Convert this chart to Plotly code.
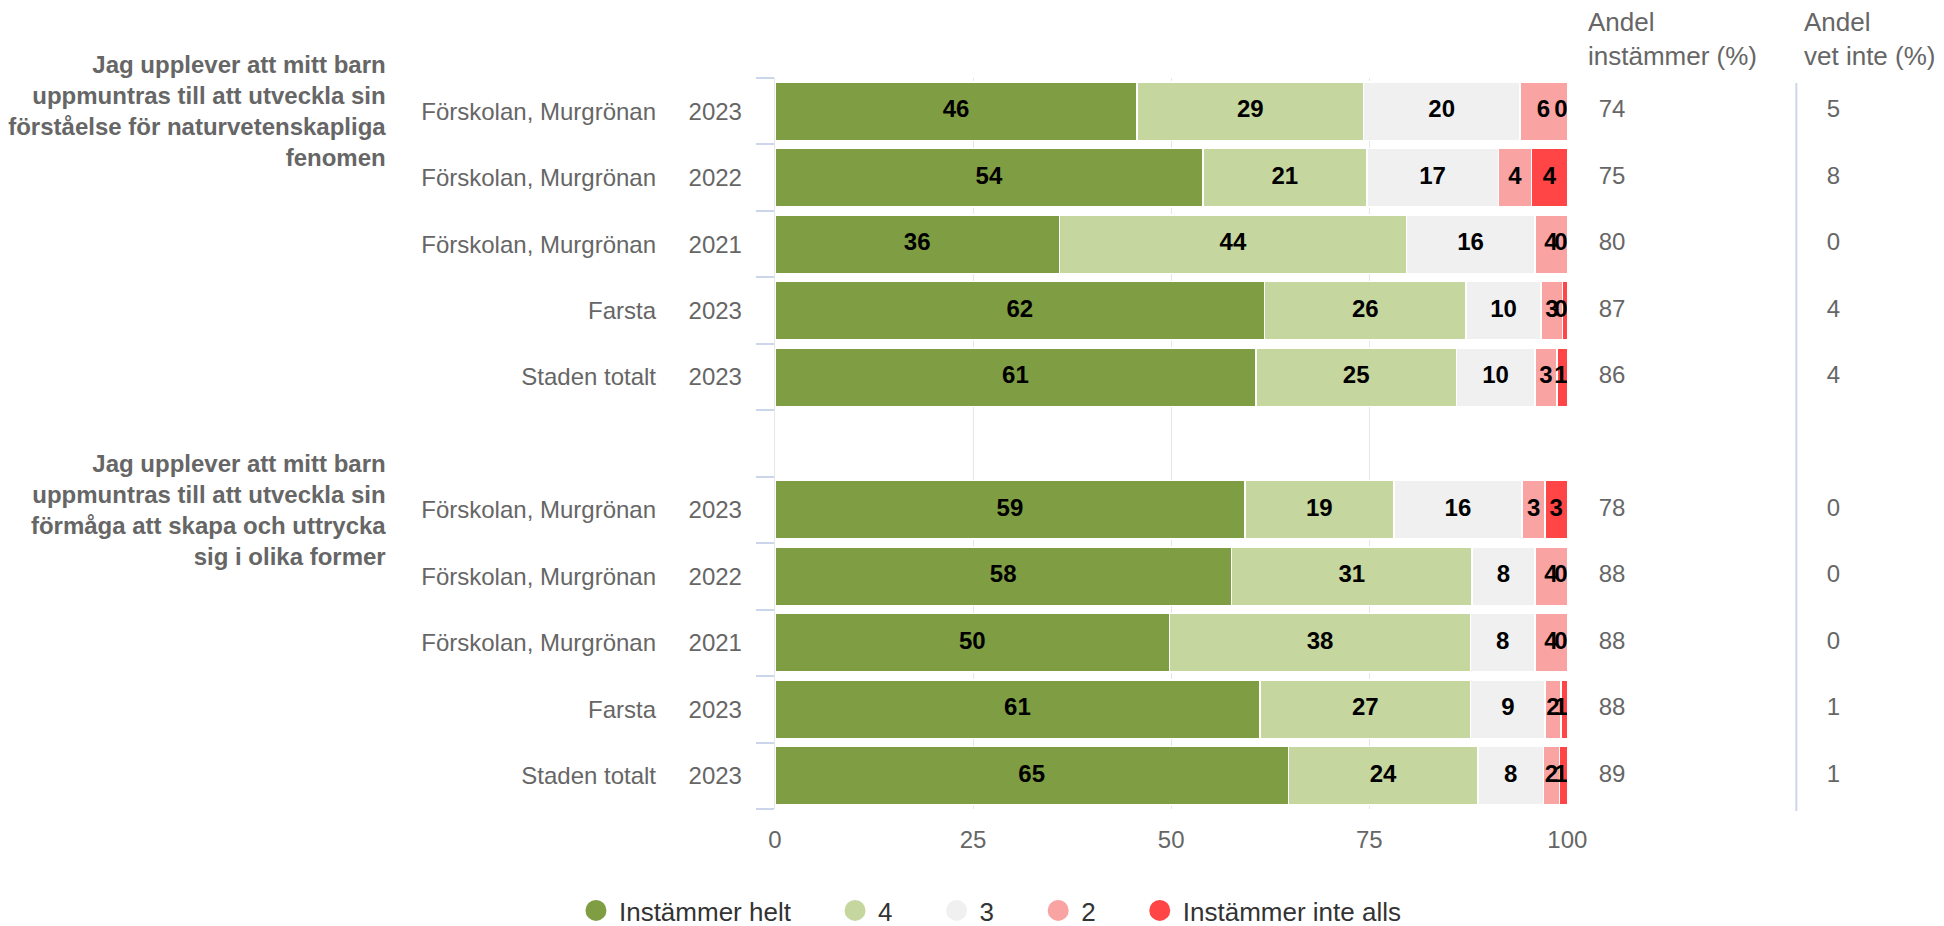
import plotly.graph_objects as go

W, H = 1944, 926

# ---------------- data ----------------
group_titles = [
    "Jag upplever att mitt barn<br>uppmuntras till att utveckla sin<br>förståelse för naturvetenskapliga<br>fenomen",
    "Jag upplever att mitt barn<br>uppmuntras till att utveckla sin<br>förmåga att skapa och uttrycka<br>sig i olika former",
]
units = ["Förskolan, Murgrönan", "Förskolan, Murgrönan", "Förskolan, Murgrönan", "Farsta", "Staden totalt",
         "Förskolan, Murgrönan", "Förskolan, Murgrönan", "Förskolan, Murgrönan", "Farsta", "Staden totalt"]
years = ["2023", "2022", "2021", "2023", "2023", "2023", "2022", "2021", "2023", "2023"]
group_of_row = [0, 0, 0, 0, 0, 1, 1, 1, 1, 1]

series_names = ["Instämmer helt", "4", "3", "2", "Instämmer inte alls"]
series_colors = ["#7f9d43", "#c5d69e", "#f0f0f0", "#f9a3a3", "#ff4545"]

# bar widths (share of answers, %)
helt_w = [45.7, 54.0, 35.9, 61.8, 60.7, 59.3, 57.6, 49.8, 61.2, 64.8]
four_w = [28.6, 20.7, 43.8, 25.4, 25.3, 18.8, 30.4, 38.0, 26.6, 23.9]
three_w = [19.7, 16.6, 16.2, 9.5, 9.9, 16.2, 7.9, 8.1, 9.4, 8.3]
two_w = [6.0, 4.2, 4.1, 2.7, 2.8, 2.9, 4.1, 4.1, 2.0, 2.0]
inte_w = [0.0, 4.5, 0.0, 0.6, 1.3, 2.8, 0.0, 0.0, 0.8, 1.0]

# rounded labels as printed
helt_lbl = [46, 54, 36, 62, 61, 59, 58, 50, 61, 65]
four_lbl = [29, 21, 44, 26, 25, 19, 31, 38, 27, 24]
three_lbl = [20, 17, 16, 10, 10, 16, 8, 8, 9, 8]
two_lbl = [6, 4, 4, 3, 3, 3, 4, 4, 2, 2]
inte_lbl = [0, 4, 0, 0, 1, 3, 0, 0, 1, 1]

andel_instammer = [74, 75, 80, 87, 86, 78, 88, 88, 88, 89]
andel_vet_inte = [5, 8, 0, 4, 4, 0, 0, 0, 1, 1]

x_ticks = [0, 25, 50, 75, 100]

# ---------------- layout helpers ----------------
FONT = "Liberation Sans, Arial, Helvetica, sans-serif"
GREY = "#666666"
FS = 24      # axis / label font size
FS_BIG = 26  # headers and legend

# row positions: rows of each group, one empty slot between groups
row_y = []
count = [0, 0]
for g in group_of_row:
    row_y.append(g * 6 + count[g])
    count[g] += 1
group_y = [g * 6 for g in range(len(group_titles))]
boundaries = [v - 0.5 for v in range(0, 12)]

widths = [helt_w, four_w, three_w, two_w, inte_w]
labels = [helt_lbl, four_lbl, three_lbl, two_lbl, inte_lbl]

# plot area in pixels
X0, X1 = 767, 1573
Y0, Y1 = 70, 810

fig = go.Figure()

for name, col, w in zip(series_names, series_colors, widths):
    fig.add_trace(go.Bar(
        x=w, y=row_y, orientation="h", name=name,
        marker=dict(color=col, line=dict(color="#ffffff", width=1.5)),
        showlegend=False, hoverinfo="skip",
    ))

# data labels at segment centres (kept inside the plot area)
lx, ly, lt = [], [], []
for i in range(len(row_y)):
    cum = 0.0
    for s in range(5):
        mid = cum + widths[s][i] / 2
        lx.append(min(mid, 99.2))
        ly.append(row_y[i])
        lt.append(str(labels[s][i]))
        cum += widths[s][i]
fig.add_trace(go.Scatter(
    x=lx, y=ly, text=lt, mode="text", textposition="middle center",
    textfont=dict(family=FONT, size=FS, color="#000000", weight="bold"),
    showlegend=False, hoverinfo="skip",
))

# right-side columns
fig.add_trace(go.Scatter(
    x=[32] * len(row_y), y=row_y, text=[str(v) for v in andel_instammer],
    mode="text", textposition="middle right", xaxis="x2",
    textfont=dict(family=FONT, size=FS, color=GREY),
    showlegend=False, hoverinfo="skip",
))
fig.add_trace(go.Scatter(
    x=[264] * len(row_y), y=row_y, text=[str(v) for v in andel_vet_inte],
    mode="text", textposition="middle right", xaxis="x2",
    textfont=dict(family=FONT, size=FS, color=GREY),
    showlegend=False, hoverinfo="skip",
))

# empty traces so that the label axes are drawn
for ya in ["y2", "y3"]:
    fig.add_trace(go.Scatter(x=[None], y=[None], yaxis=ya, mode="markers",
                             showlegend=False, hoverinfo="skip"))

# legend entries (circle symbols)
PAD = "\u00a0" * 5
for name, col in zip(series_names, series_colors):
    fig.add_trace(go.Scatter(
        x=[None], y=[None], mode="markers", name=name + PAD,
        marker=dict(color=col, size=16, symbol="circle",
                    line=dict(color=col, width=5)),
        showlegend=True,
    ))

yr = [10.5, -0.5]
fig.update_layout(
    width=W, height=H,
    margin=dict(l=0, r=0, t=Y0, b=H - Y1, pad=0),
    paper_bgcolor="#ffffff", plot_bgcolor="#ffffff",
    barmode="stack", bargap=0.12,
    font=dict(family=FONT, size=FS, color=GREY),
    xaxis=dict(
        domain=[X0 / W, X1 / W], range=[0, 100], tickvals=x_ticks,
        showgrid=True, gridcolor="#e6e6e6", gridwidth=1,
        zeroline=True, zerolinecolor="#e6e6e6", zerolinewidth=1,
        showline=False, ticks="", tickfont=dict(size=FS, color=GREY),
        ticklabelstandoff=14, fixedrange=True,
    ),
    xaxis2=dict(
        domain=[X1 / W, 1.0], range=[0, W - X1], anchor="y",
        visible=False, fixedrange=True,
    ),
    yaxis=dict(
        range=yr, tickvals=row_y, ticktext=years, ticks="",
        showgrid=False, zeroline=False, showline=False,
        ticklabelstandoff=32, tickfont=dict(size=FS, color=GREY),
        minor=dict(tickvals=boundaries, ticks="outside", ticklen=18,
                   tickcolor="#ccd6eb", tickwidth=2, showgrid=False),
        fixedrange=True,
    ),
    yaxis2=dict(
        range=yr, overlaying="y", anchor="free", position=646 / W, side="left",
        tickvals=row_y, ticktext=units, ticks="", showgrid=False,
        zeroline=False, showline=False, tickfont=dict(size=FS, color=GREY),
        fixedrange=True,
    ),
    yaxis3=dict(
        range=yr, overlaying="y", anchor="free", position=371 / W, side="left",
        tickvals=group_y,
        ticktext=["<b>" + t.replace("<br>", "</b><br><b>") + "</b>" for t in group_titles],
        ticks="", showgrid=False, zeroline=False, showline=False,
        tickfont=dict(size=FS, color=GREY), fixedrange=True,
    ),
    legend=dict(
        orientation="h", traceorder="normal", itemwidth=36,
        x=1004 / W, xanchor="center", y=(Y1 - 913) / (Y1 - Y0),
        yanchor="middle", font=dict(size=FS_BIG, color="#333333"),
        itemclick=False, itemdoubleclick=False,
    ),
    annotations=[
        dict(text="Andel<br>instämmer (%)", xref="paper", yref="paper",
             x=1592 / W, y=(Y1 + 4) / (Y1 - Y0), xanchor="left", yanchor="top",
             align="left", showarrow=False, font=dict(size=FS_BIG, color=GREY)),
        dict(text="Andel<br>vet inte (%)", xref="paper", yref="paper",
             x=1812 / W, y=(Y1 + 4) / (Y1 - Y0), xanchor="left", yanchor="top",
             align="left", showarrow=False, font=dict(size=FS_BIG, color=GREY)),
    ],
    shapes=[
        dict(type="line", xref="paper", yref="paper",
             x0=1806 / W, x1=1806 / W, y0=(Y1 - 75) / (Y1 - Y0), y1=(Y1 - 812) / (Y1 - Y0),
             line=dict(color="#ccd6eb", width=2)),
    ],
)

fig.write_html("out.html")
